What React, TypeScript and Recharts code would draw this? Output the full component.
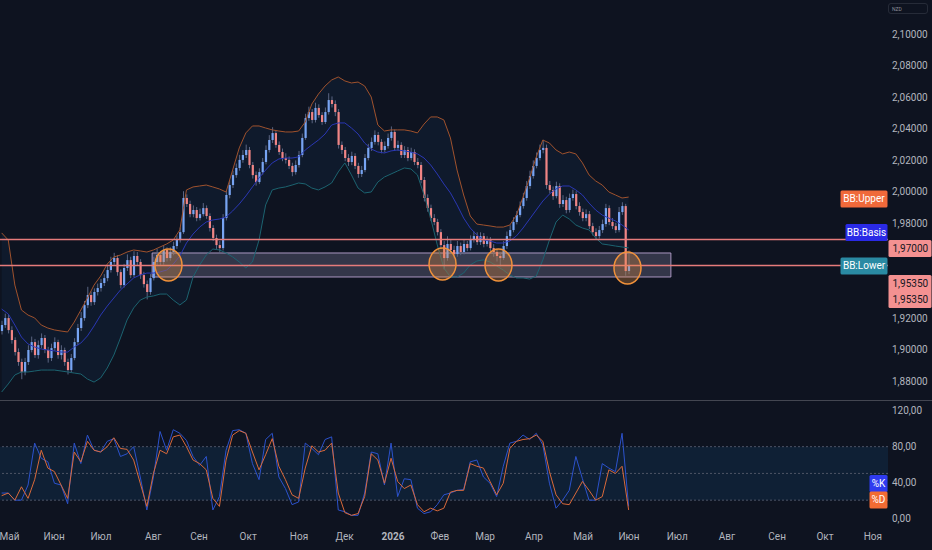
import React from 'react';
import { ComposedChart, Bar, Line, Area, XAxis, YAxis, ReferenceLine, ReferenceArea, ReferenceDot } from 'recharts';

// ---------- price candles (one candle per index) ----------
const opens = [
  1.9120, 1.9158, 1.9202, 1.9126, 1.9063, 1.8987, 1.8924, 1.8860, 1.8924, 1.9000,
  1.9050, 1.8968, 1.9031, 1.9076, 1.9000, 1.8949, 1.9012, 1.9050, 1.8968, 1.9000,
  1.8924, 1.8873, 1.8949, 1.9050, 1.9139, 1.9202, 1.9284, 1.9348, 1.9303, 1.9367,
  1.9392, 1.9424, 1.9455, 1.9506, 1.9557, 1.9582, 1.9493, 1.9411, 1.9519, 1.9569,
  1.9474, 1.9595, 1.9557, 1.9474, 1.9417, 1.9367, 1.9455, 1.9557, 1.9601, 1.9557,
  1.9633, 1.9582, 1.9620, 1.9658, 1.9696, 1.9746, 1.9962, 1.9924, 1.9860, 1.9886,
  1.9835, 1.9860, 1.9898, 1.9848, 1.9772, 1.9709, 1.9664, 1.9645, 1.9835, 1.9981,
  2.0044, 2.0107, 2.0152, 2.0203, 2.0234, 2.0266, 2.0171, 2.0107, 2.0063, 2.0126,
  2.0190, 2.0266, 2.0329, 2.0373, 2.0298, 2.0253, 2.0215, 2.0203, 2.0165, 2.0126,
  2.0171, 2.0234, 2.0342, 2.0468, 2.0506, 2.0456, 2.0532, 2.0487, 2.0443, 2.0506,
  2.0582, 2.0557, 2.0506, 2.0298, 2.0266, 2.0215, 2.0190, 2.0228, 2.0165, 2.0114,
  2.0139, 2.0215, 2.0279, 2.0317, 2.0361, 2.0317, 2.0266, 2.0291, 2.0342, 2.0380,
  2.0279, 2.0298, 2.0234, 2.0266, 2.0215, 2.0253, 2.0190, 2.0171, 2.0076, 1.9962,
  1.9898, 1.9835, 1.9810, 1.9746, 1.9664, 1.9582, 1.9671, 1.9633, 1.9607, 1.9658,
  1.9620, 1.9671, 1.9645, 1.9696, 1.9721, 1.9683, 1.9721, 1.9671, 1.9696, 1.9645,
  1.9620, 1.9595, 1.9582, 1.9658, 1.9721, 1.9759, 1.9810, 1.9854, 1.9911, 1.9962,
  2.0038, 2.0101, 2.0165, 2.0215, 2.0266, 2.0279, 2.0044, 2.0012, 1.9974, 2.0038,
  1.9924, 1.9949, 1.9886, 1.9962, 1.9987, 1.9911, 1.9873, 1.9835, 1.9860, 1.9784,
  1.9746, 1.9721, 1.9759, 1.9797, 1.9898, 1.9810, 1.9784, 1.9759, 1.9873, 1.9911,
  1.9500,
];
const highs = [
  1.9185, 1.9230, 1.9221, 1.9150, 1.9080, 1.9010, 1.8945, 1.8950, 1.9030, 1.9085,
  1.9070, 1.9060, 1.9105, 1.9095, 1.9020, 1.9040, 1.9080, 1.9065, 1.9030, 1.9015,
  1.8945, 1.8975, 1.9075, 1.9165, 1.9240, 1.9310, 1.9400, 1.9370, 1.9390, 1.9420,
  1.9450, 1.9480, 1.9535, 1.9590, 1.9615, 1.9600, 1.9510, 1.9545, 1.9605, 1.9590,
  1.9625, 1.9620, 1.9575, 1.9495, 1.9440, 1.9480, 1.9590, 1.9640, 1.9625, 1.9660,
  1.9650, 1.9650, 1.9685, 1.9725, 1.9775, 2.0005, 1.9985, 1.9945, 1.9915, 1.9905,
  1.9895, 1.9930, 1.9915, 1.9865, 1.9790, 1.9730, 1.9690, 1.9860, 2.0010, 2.0075,
  2.0135, 2.0180, 2.0235, 2.0265, 2.0300, 2.0285, 2.0190, 2.0130, 2.0150, 2.0215,
  2.0295, 2.0360, 2.0410, 2.0390, 2.0320, 2.0275, 2.0245, 2.0225, 2.0185, 2.0200,
  2.0260, 2.0370, 2.0495, 2.0540, 2.0525, 2.0565, 2.0555, 2.0505, 2.0535, 2.0625,
  2.0605, 2.0580, 2.0525, 2.0320, 2.0285, 2.0240, 2.0255, 2.0245, 2.0185, 2.0165,
  2.0240, 2.0305, 2.0345, 2.0390, 2.0380, 2.0335, 2.0320, 2.0370, 2.0415, 2.0395,
  2.0325, 2.0315, 2.0290, 2.0285, 2.0280, 2.0270, 2.0215, 2.0190, 2.0095, 1.9985,
  1.9920, 1.9860, 1.9830, 1.9765, 1.9690, 1.9720, 1.9700, 1.9660, 1.9690, 1.9680,
  1.9700, 1.9690, 1.9725, 1.9750, 1.9745, 1.9745, 1.9740, 1.9720, 1.9715, 1.9670,
  1.9640, 1.9620, 1.9690, 1.9750, 1.9790, 1.9840, 1.9880, 1.9940, 1.9995, 2.0070,
  2.0135, 2.0200, 2.0250, 2.0300, 2.0330, 2.0300, 2.0070, 2.0035, 2.0065, 2.0055,
  1.9980, 1.9970, 1.9990, 2.0015, 2.0005, 1.9935, 1.9895, 1.9890, 1.9880, 1.9805,
  1.9770, 1.9785, 1.9825, 1.9925, 1.9915, 1.9835, 1.9805, 1.9905, 1.9935, 1.9925,
  1.9630,
];
const lows = [
  1.9098, 1.9140, 1.9105, 1.9040, 1.8965, 1.8900, 1.8815, 1.8840, 1.8905, 1.8985,
  1.8950, 1.8945, 1.9010, 1.8980, 1.8920, 1.8930, 1.8995, 1.8945, 1.8940, 1.8900,
  1.8845, 1.8860, 1.8935, 1.9030, 1.9120, 1.9185, 1.9265, 1.9280, 1.9285, 1.9345,
  1.9370, 1.9405, 1.9435, 1.9490, 1.9540, 1.9470, 1.9390, 1.9395, 1.9500, 1.9455,
  1.9460, 1.9535, 1.9450, 1.9395, 1.9320, 1.9350, 1.9440, 1.9535, 1.9535, 1.9540,
  1.9560, 1.9565, 1.9600, 1.9640, 1.9680, 1.9735, 1.9905, 1.9840, 1.9840, 1.9815,
  1.9820, 1.9845, 1.9830, 1.9750, 1.9690, 1.9640, 1.9610, 1.9630, 1.9820, 1.9960,
  2.0025, 2.0090, 2.0135, 2.0185, 2.0215, 2.0150, 2.0085, 2.0040, 2.0050, 2.0110,
  2.0175, 2.0250, 2.0310, 2.0280, 2.0235, 2.0195, 2.0180, 2.0145, 2.0100, 2.0110,
  2.0155, 2.0220, 2.0330, 2.0450, 2.0435, 2.0440, 2.0470, 2.0425, 2.0430, 2.0490,
  2.0535, 2.0480, 2.0275, 2.0240, 2.0195, 2.0165, 2.0170, 2.0145, 2.0090, 2.0095,
  2.0125, 2.0200, 2.0260, 2.0300, 2.0295, 2.0245, 2.0250, 2.0275, 2.0325, 2.0260,
  2.0260, 2.0215, 2.0215, 2.0195, 2.0200, 2.0170, 2.0150, 2.0055, 1.9940, 1.9875,
  1.9815, 1.9790, 1.9725, 1.9640, 1.9510, 1.9565, 1.9610, 1.9580, 1.9590, 1.9600,
  1.9605, 1.9625, 1.9630, 1.9680, 1.9665, 1.9665, 1.9650, 1.9655, 1.9625, 1.9590,
  1.9560, 1.9530, 1.9570, 1.9640, 1.9705, 1.9745, 1.9795, 1.9840, 1.9895, 1.9945,
  2.0020, 2.0085, 2.0150, 2.0200, 2.0245, 2.0020, 1.9990, 1.9950, 1.9960, 1.9900,
  1.9905, 1.9865, 1.9870, 1.9945, 1.9890, 1.9850, 1.9815, 1.9815, 1.9765, 1.9725,
  1.9700, 1.9705, 1.9740, 1.9780, 1.9790, 1.9765, 1.9740, 1.9745, 1.9855, 1.9470,
  1.9480,
];
const closes = [
  1.9158, 1.9202, 1.9126, 1.9063, 1.8987, 1.8924, 1.8860, 1.8924, 1.9000, 1.9050,
  1.8968, 1.9031, 1.9076, 1.9000, 1.8949, 1.9012, 1.9050, 1.8968, 1.9000, 1.8924,
  1.8873, 1.8949, 1.9050, 1.9139, 1.9202, 1.9284, 1.9348, 1.9303, 1.9367, 1.9392,
  1.9424, 1.9455, 1.9506, 1.9557, 1.9582, 1.9493, 1.9411, 1.9519, 1.9569, 1.9474,
  1.9595, 1.9557, 1.9474, 1.9417, 1.9367, 1.9455, 1.9557, 1.9601, 1.9557, 1.9633,
  1.9582, 1.9620, 1.9658, 1.9696, 1.9746, 1.9962, 1.9924, 1.9860, 1.9886, 1.9835,
  1.9860, 1.9898, 1.9848, 1.9772, 1.9709, 1.9664, 1.9645, 1.9835, 1.9981, 2.0044,
  2.0107, 2.0152, 2.0203, 2.0234, 2.0266, 2.0171, 2.0107, 2.0063, 2.0126, 2.0190,
  2.0266, 2.0329, 2.0373, 2.0298, 2.0253, 2.0215, 2.0203, 2.0165, 2.0126, 2.0171,
  2.0234, 2.0342, 2.0468, 2.0506, 2.0456, 2.0532, 2.0487, 2.0443, 2.0506, 2.0582,
  2.0557, 2.0506, 2.0298, 2.0266, 2.0215, 2.0190, 2.0228, 2.0165, 2.0114, 2.0139,
  2.0215, 2.0279, 2.0317, 2.0361, 2.0317, 2.0266, 2.0291, 2.0342, 2.0380, 2.0279,
  2.0298, 2.0234, 2.0266, 2.0215, 2.0253, 2.0190, 2.0171, 2.0076, 1.9962, 1.9898,
  1.9835, 1.9810, 1.9746, 1.9664, 1.9582, 1.9671, 1.9633, 1.9607, 1.9658, 1.9620,
  1.9671, 1.9645, 1.9696, 1.9721, 1.9683, 1.9721, 1.9671, 1.9696, 1.9645, 1.9620,
  1.9595, 1.9582, 1.9658, 1.9721, 1.9759, 1.9810, 1.9854, 1.9911, 1.9962, 2.0038,
  2.0101, 2.0165, 2.0215, 2.0266, 2.0279, 2.0044, 2.0012, 1.9974, 2.0038, 1.9924,
  1.9949, 1.9886, 1.9962, 1.9987, 1.9911, 1.9873, 1.9835, 1.9860, 1.9784, 1.9746,
  1.9721, 1.9759, 1.9797, 1.9898, 1.9810, 1.9784, 1.9759, 1.9873, 1.9911, 1.9500,
  1.9535,
];

// ---------- Bollinger bands (one value every 2 candles) ----------
const BAND_STEP = 2;
const bbUpper = [
  1.9741, 1.9696, 1.9411, 1.9253, 1.9221, 1.9203, 1.9158, 1.9139, 1.9127, 1.9120,
  1.9114, 1.9177, 1.9253, 1.9329, 1.9411, 1.9468, 1.9544, 1.9589, 1.9601, 1.9620,
  1.9633, 1.9627, 1.9620, 1.9633, 1.9652, 1.9671, 1.9696, 1.9760, 2.0013, 2.0032,
  2.0038, 2.0044, 2.0032, 2.0019, 2.0000, 2.0139, 2.0279, 2.0374, 2.0418, 2.0418,
  2.0405, 2.0393, 2.0386, 2.0380, 2.0380, 2.0386, 2.0443, 2.0557, 2.0620, 2.0671,
  2.0709, 2.0728, 2.0703, 2.0690, 2.0696, 2.0671, 2.0601, 2.0424, 2.0386, 2.0393,
  2.0393, 2.0393, 2.0386, 2.0374, 2.0430, 2.0475, 2.0475, 2.0456, 2.0342, 2.0139,
  1.9981, 1.9848, 1.9797, 1.9791, 1.9785, 1.9778, 1.9778, 1.9791, 1.9854, 1.9968,
  2.0089, 2.0222, 2.0329, 2.0310, 2.0266, 2.0241, 2.0253, 2.0241, 2.0184, 2.0108,
  2.0070, 2.0044, 2.0000, 1.9981, 1.9962, 1.9968,
];
const bbBasis = [
  1.9259, 1.9228, 1.9158, 1.9082, 1.9038, 1.9019, 1.9006, 1.9000, 1.8994, 1.8987,
  1.8987, 1.9019, 1.9044, 1.9089, 1.9152, 1.9221, 1.9278, 1.9329, 1.9380, 1.9418,
  1.9456, 1.9475, 1.9487, 1.9487, 1.9494, 1.9506, 1.9544, 1.9595, 1.9677, 1.9734,
  1.9778, 1.9810, 1.9823, 1.9829, 1.9842, 1.9880, 1.9924, 1.9975, 2.0032, 2.0089,
  2.0139, 2.0184, 2.0209, 2.0215, 2.0215, 2.0222, 2.0266, 2.0298, 2.0329, 2.0367,
  2.0424, 2.0437, 2.0437, 2.0405, 2.0367, 2.0310, 2.0272, 2.0253, 2.0247, 2.0260,
  2.0266, 2.0260, 2.0253, 2.0241, 2.0215, 2.0171, 2.0114, 2.0051, 1.9994, 1.9918,
  1.9835, 1.9772, 1.9728, 1.9696, 1.9690, 1.9677, 1.9677, 1.9690, 1.9722, 1.9772,
  1.9829, 1.9886, 1.9943, 1.9987, 2.0019, 2.0038, 2.0038, 2.0013, 1.9981, 1.9930,
  1.9886, 1.9854, 1.9835, 1.9817, 1.9791, 1.9760,
];
const bbLower = [
  1.8734, 1.8785, 1.8842, 1.8861, 1.8861, 1.8867, 1.8873, 1.8873, 1.8873, 1.8867,
  1.8861, 1.8854, 1.8848, 1.8816, 1.8797, 1.8823, 1.8886, 1.8968, 1.9076, 1.9190,
  1.9266, 1.9316, 1.9335, 1.9342, 1.9354, 1.9354, 1.9316, 1.9285, 1.9316, 1.9462,
  1.9538, 1.9601, 1.9639, 1.9633, 1.9614, 1.9589, 1.9557, 1.9519, 1.9557, 1.9696,
  1.9918, 2.0013, 2.0025, 2.0032, 2.0044, 2.0057, 2.0051, 2.0025, 2.0013, 2.0032,
  2.0057, 2.0127, 2.0184, 2.0108, 2.0025, 1.9994, 2.0000, 2.0063, 2.0095, 2.0114,
  2.0133, 2.0152, 2.0146, 2.0108, 1.9981, 1.9835, 1.9665, 1.9519, 1.9462, 1.9462,
  1.9487, 1.9538, 1.9563, 1.9570, 1.9557, 1.9532, 1.9506, 1.9475, 1.9456, 1.9456,
  1.9449, 1.9468, 1.9570, 1.9696, 1.9810, 1.9854, 1.9829, 1.9791, 1.9772, 1.9760,
  1.9709, 1.9671, 1.9665, 1.9658, 1.9652, 1.9646,
];

// ---------- Stochastic (one value every 2 candles) ----------
const stochK = [
  28, 28, 20, 20, 37, 84, 67, 63, 39, 37,
  16, 84, 61, 93, 76, 74, 86, 89, 69, 72,
  80, 46, 9, 46, 97, 76, 99, 95, 87, 69,
  59, 69, 9, 24, 76, 98, 99, 95, 61, 43,
  88, 95, 46, 33, 15, 18, 84, 78, 71, 88,
  91, 9, 7, 3, 3, 28, 74, 72, 37, 84,
  24, 44, 43, 11, 5, 7, 15, 26, 28, 31,
  32, 63, 65, 46, 39, 24, 58, 84, 86, 93,
  88, 95, 82, 39, 11, 20, 31, 69, 44, 20,
  20, 61, 56, 52, 95, 13,
];
const stochD = [
  25, 28, 20, 35, 22, 43, 76, 56, 52, 37,
  22, 74, 63, 86, 76, 74, 80, 90, 78, 77,
  65, 39, 13, 50, 76, 72, 91, 93, 80, 65,
  61, 54, 22, 13, 65, 93, 98, 95, 74, 54,
  71, 89, 58, 43, 26, 22, 56, 81, 74, 76,
  84, 28, 6, 3, 5, 24, 72, 65, 39, 67,
  41, 33, 37, 15, 7, 11, 8, 11, 29, 31,
  31, 61, 58, 56, 41, 26, 39, 78, 86, 88,
  89, 93, 86, 52, 26, 16, 15, 28, 41, 31,
  20, 24, 54, 50, 58, 9,
];

// ---------- axes ----------
const monthTicks = [2.4, 15.9, 30.1, 45.9, 59.8, 74.7, 90.1, 103.9, 118.6, 132.8, 146.5, 161.3, 176.2, 190.1, 204.7, 219.8, 235.0, 249.5, 264.0];
const monthLabels = ['Май', 'Июн', 'Июл', 'Авг', 'Сен', 'Окт', 'Ноя', 'Дек', '2026', 'Фев', 'Мар', 'Апр', 'Май', 'Июн', 'Июл', 'Авг', 'Сен', 'Окт', 'Ноя'];
const priceTicks = [1.88, 1.9, 1.92, 1.98, 2.0, 2.02, 2.04, 2.06, 2.08, 2.1];
const stochTicks = [0, 40, 80, 120];
const stochLevels = [80, 50, 20];

// ---------- drawings ----------
const levels = [1.97, 1.9535];
const zoneX = [45.6, 202.8];
const zoneY = [1.9462, 1.9614];
const circleX = [50.56, 133.6, 150.56, 189.65];
const circleY = [1.9538, 1.9544, 1.9538, 1.9519];

const X_DOMAIN: [number, number] = [-0.5, 268.59];
const PRICE_DOMAIN: [number, number] = [1.86835, 2.12152];
const STOCH_DOMAIN: [number, number] = [-5.6, 131.2];

const BG = '#0e1320';
const AXIS_TEXT = '#b2b5be';
const FONT = "Roboto, 'Noto Sans', Arial, sans-serif";
const UP = '#77a4f2';
const DOWN = '#f08585';
const WICK = '#5b6582';

const fmt = (v: number, d: number) => v.toFixed(d).replace('.', ',');

const candles = opens.map((o, i) => ({ i, o, h: highs[i], l: lows[i], c: closes[i], range: [lows[i], highs[i]] }));
const bands = bbUpper.map((u, k) => ({ i: k * BAND_STEP, upper: u, basis: bbBasis[k], lower: bbLower[k], band: [bbLower[k], u] }));
const stoch = stochK.map((v, k) => ({ i: k * BAND_STEP, k: v, d: stochD[k] }));

const priceTags = [
  { lines: ['BB:Upper'], at: 1.9956, bg: '#f0693a', fg: '#ffffff', w: 47, axis: false },
  { lines: ['BB:Basis'], at: 1.9744, bg: '#2a2ae6', fg: '#ffffff', w: 42, axis: false },
  { lines: ['BB:Lower'], at: 1.9532, bg: '#2a8aa3', fg: '#ffffff', w: 47, axis: false },
  { lines: [fmt(levels[0], 5)], at: 1.9642, bg: '#f49191', fg: '#131722', w: 43, axis: true },
  { lines: [fmt(levels[1], 5), fmt(levels[1], 5)], at: 1.937, bg: '#f49191', fg: '#131722', w: 43, axis: true },
];
const stochTags = [
  { lines: ['%K'], at: 38.7, bg: '#2f3bf0', fg: '#ffffff', w: 18, axis: false },
  { lines: ['%D'], at: 20.2, bg: '#f26b33', fg: '#ffffff', w: 18, axis: false },
];

function Candle(props: any) {
  const { x, y, width, height, payload } = props;
  if (!payload || height == null || isNaN(y)) return null;
  const top = Math.min(y, y + height);
  const h = Math.abs(height);
  const span = payload.h - payload.l;
  const k = span > 0 ? h / span : 0;
  const yOf = (v: number) => top + (payload.h - v) * k;
  const cx = x + width / 2;
  const up = payload.c >= payload.o;
  const bTop = yOf(Math.max(payload.o, payload.c));
  const bBot = yOf(Math.min(payload.o, payload.c));
  const bw = 2.2;
  return (
    <g>
      <line x1={cx} x2={cx} y1={top} y2={top + h} stroke={WICK} strokeWidth={1} />
      <rect x={cx - bw / 2} y={bTop} width={bw} height={Math.max(1, bBot - bTop)} fill={up ? UP : DOWN} />
    </g>
  );
}

function Ellipse(props: any) {
  const { cx, cy } = props;
  if (cx == null || cy == null) return null;
  return <ellipse cx={cx} cy={cy} rx={13.5} ry={16} fill="#f0913a" fillOpacity={0.3} stroke="#f0913a" strokeWidth={1.5} />;
}

const makeTag = (t: any, lineH: number) => (props: any) => {
  const vb = props.viewBox || {};
  const right = (vb.x || 0) + (vb.width || 0);
  const cy = vb.y || 0;
  const n = t.lines.length;
  const h = n * lineH + 2;
  const x0 = t.axis ? right + 0.5 : right - t.w - 0.5;
  return (
    <g>
      <rect x={x0} y={cy - h / 2} width={t.w} height={h} fill={t.bg} rx={1.5} />
      {t.lines.map((s: string, j: number) => (
        <text
          key={j}
          x={t.axis ? x0 + 4 : x0 + t.w / 2}
          y={cy - h / 2 + 1 + lineH * (j + 0.5)}
          dy={3.5}
          textAnchor={t.axis ? 'start' : 'middle'}
          fill={t.fg}
          fontSize={10}
          fontFamily={FONT}
        >
          {s}
        </text>
      ))}
    </g>
  );
};

const PriceTick = (props: any) => {
  const { y, payload } = props;
  return (
    <text x={892} y={y} dy={3.5} fill={AXIS_TEXT} fontSize={10} fontFamily={FONT} textAnchor="start">
      {fmt(payload.value, 5)}
    </text>
  );
};

const StochTick = (props: any) => {
  const { y, payload } = props;
  return (
    <text x={892} y={y} dy={3.5} fill={AXIS_TEXT} fontSize={10} fontFamily={FONT} textAnchor="start">
      {fmt(payload.value, 2)}
    </text>
  );
};

const MonthTick = (props: any) => {
  const { x, y, payload } = props;
  const idx = monthTicks.indexOf(payload.value);
  const label = monthLabels[idx] ?? '';
  return (
    <text x={x} y={y} dy={8.5} fill={AXIS_TEXT} fontSize={10} fontFamily={FONT} textAnchor="middle" fontWeight={label === '2026' ? 700 : 400}>
      {label}
    </text>
  );
};

export default function App() {
  return (
    <div style={{ position: 'absolute', left: 0, top: 0, width: 932, height: 550, background: BG, overflow: 'hidden' }}>
      <div style={{ position: 'absolute', left: 888, top: 3, width: 40, height: 11, border: '1px solid #262b38', borderRadius: 3, color: '#8a8d96', fontSize: 5, fontFamily: FONT, lineHeight: '11px', paddingLeft: 3, boxSizing: 'border-box', zIndex: 2 }}>
        NZD
      </div>
      <ComposedChart width={932} height={400} data={candles} margin={{ top: 0, right: 0, bottom: 0, left: 0 }}>
        <XAxis dataKey="i" type="number" domain={X_DOMAIN} hide allowDataOverflow />
        <YAxis
          orientation="right"
          type="number"
          width={44}
          domain={PRICE_DOMAIN}
          ticks={priceTicks}
          interval={0}
          axisLine={false}
          tickLine={false}
          tick={<PriceTick />}
          allowDataOverflow
        />
        <Area data={bands} dataKey="band" type="linear" stroke="none" fill="#2196f3" fillOpacity={0.06} isAnimationActive={false} activeDot={false} />
        <Line data={bands} dataKey="upper" type="linear" stroke="#a0522d" strokeWidth={1} dot={false} activeDot={false} isAnimationActive={false} />
        <Line data={bands} dataKey="basis" type="linear" stroke="#2a37b4" strokeWidth={1} dot={false} activeDot={false} isAnimationActive={false} />
        <Line data={bands} dataKey="lower" type="linear" stroke="#1c6370" strokeWidth={1} dot={false} activeDot={false} isAnimationActive={false} />
        {levels.map((lv, j) => (
          <ReferenceLine key={'lv' + j} y={lv} stroke="#e67b7b" strokeWidth={1.5} />
        ))}
        <Bar dataKey="range" barSize={2} shape={(p: any) => <Candle {...p} />} isAnimationActive={false} />
        <ReferenceArea x1={zoneX[0]} x2={zoneX[1]} y1={zoneY[0]} y2={zoneY[1]} fill="#8c88a8" fillOpacity={0.3} stroke="#b9a3d0" strokeWidth={1} strokeOpacity={0.9} />
        {circleX.map((cx, j) => (
          <ReferenceDot key={'c' + j} x={cx} y={circleY[j]} r={14} shape={(p: any) => <Ellipse {...p} />} />
        ))}
        {priceTags.map((t, j) => (
          <ReferenceLine key={'t' + j} y={t.at} stroke="none" label={makeTag(t, t.lines.length > 1 ? 15.5 : 15)} />
        ))}
      </ComposedChart>
      <div style={{ borderTop: '1px solid #434651', width: 932 }}>
        <ComposedChart width={932} height={149} data={stoch} margin={{ top: 0, right: 0, bottom: 0, left: 0 }}>
          <XAxis
            dataKey="i"
            type="number"
            domain={X_DOMAIN}
            ticks={monthTicks}
            interval={0}
            axisLine={false}
            tickLine={false}
            height={27}
            tick={<MonthTick />}
            allowDataOverflow
          />
          <YAxis
            orientation="right"
            type="number"
            width={44}
            domain={STOCH_DOMAIN}
            ticks={stochTicks}
            interval={0}
            axisLine={false}
            tickLine={false}
            tick={<StochTick />}
            allowDataOverflow
          />
          <ReferenceArea y1={stochLevels[2]} y2={stochLevels[0]} fill="#2196f3" fillOpacity={0.1} stroke="none" />
          {stochLevels.map((lv, j) => (
            <ReferenceLine key={'s' + j} y={lv} stroke="#4e5466" strokeDasharray="2 2" strokeWidth={1} />
          ))}
          <Line dataKey="k" type="linear" stroke="#2c52cc" strokeWidth={1} dot={false} activeDot={false} isAnimationActive={false} />
          <Line dataKey="d" type="linear" stroke="#d9693a" strokeWidth={1} dot={false} activeDot={false} isAnimationActive={false} />
          {stochTags.map((t, j) => (
            <ReferenceLine key={'st' + j} y={t.at} stroke="none" label={makeTag(t, 15)} />
          ))}
        </ComposedChart>
      </div>
    </div>
  );
}
